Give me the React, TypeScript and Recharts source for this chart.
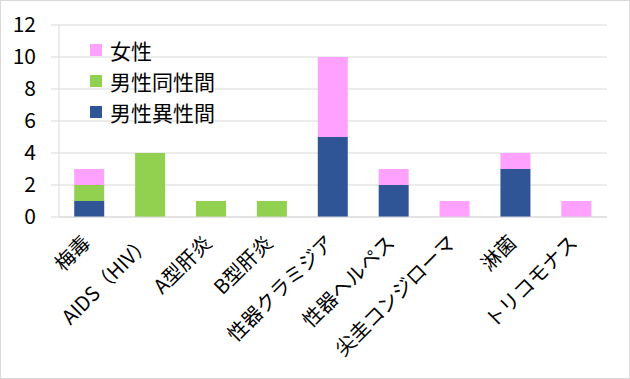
import { BarChart, Bar, XAxis, YAxis, CartesianGrid } from "recharts";

const categories = [
  "梅毒",
  "AIDS（HIV）",
  "A型肝炎",
  "B型肝炎",
  "性器クラミジア",
  "性器ヘルペス",
  "尖圭コンジローマ",
  "淋菌",
  "トリコモナス",
];
const heteroMale = [1, 0, 0, 0, 5, 2, 0, 3, 0];
const homoMale = [1, 4, 1, 1, 0, 0, 0, 0, 0];
const female = [1, 0, 0, 0, 5, 1, 1, 1, 1];
const yTicks = [0, 2, 4, 6, 8, 10, 12];

const SERIES = [
  { key: "hetero", name: "男性異性間", color: "#2F5597", values: heteroMale },
  { key: "homo", name: "男性同性間", color: "#92D050", values: homoMale },
  { key: "female", name: "女性", color: "#FFA1FF", values: female },
];

const FONT = "'Noto Sans CJK JP', 'Noto Sans', sans-serif";

const data = categories.map((name, i) => {
  const row: Record<string, string | number> = { name };
  SERIES.forEach((s) => {
    row[s.key] = s.values[i];
  });
  return row;
});

function XTick({ x, y, payload }: any) {
  return (
    <g transform={`translate(${x + 2},${y + 25})`}>
      <text
        x={0}
        y={0}
        textAnchor="end"
        transform="rotate(-45)"
        fontSize={20}
        fontFamily={FONT}
        fill="#000"
      >
        {payload.value}
      </text>
    </g>
  );
}

function LegendBox() {
  return (
    <div
      style={{
        position: "absolute",
        left: 89,
        top: 33,
        fontFamily: FONT,
        fontSize: 21,
        color: "#000",
      }}
    >
      {[...SERIES].reverse().map((s) => (
        <div
          key={s.key}
          style={{ display: "flex", alignItems: "center", height: 31 }}
        >
          <span
            style={{
              width: 12,
              height: 12,
              background: s.color,
              display: "inline-block",
              marginRight: 8,
            }}
          />
          <span>{s.name}</span>
        </div>
      ))}
    </div>
  );
}

export default function App() {
  return (
    <div
      style={{
        position: "absolute",
        left: 0,
        top: 0,
        width: 628,
        height: 377,
        border: "1px solid #D9D9D9",
        background: "#fff",
      }}
    >
      <BarChart
        width={628}
        height={377}
        data={data}
        margin={{ top: 24, right: 22, left: 0, bottom: 0 }}
        barCategoryGap="25%"
      >
        <CartesianGrid vertical={false} stroke="#D9D9D9" />
        <XAxis
          dataKey="name"
          height={161}
          interval={0}
          tickLine={false}
          tickSize={0}
          stroke="#D9D9D9"
          tick={<XTick />}
        />
        <YAxis
          width={58}
          domain={[0, 12]}
          ticks={yTicks}
          interval={0}
          tickSize={8}
          tickMargin={15}
          stroke="#D9D9D9"
          tick={{ fontSize: 21, fill: "#000", fontFamily: FONT }}
        />
        {SERIES.map((s) => (
          <Bar
            key={s.key}
            dataKey={s.key}
            name={s.name}
            stackId="a"
            fill={s.color}
            isAnimationActive={false}
          />
        ))}
      </BarChart>
      <LegendBox />
    </div>
  );
}
